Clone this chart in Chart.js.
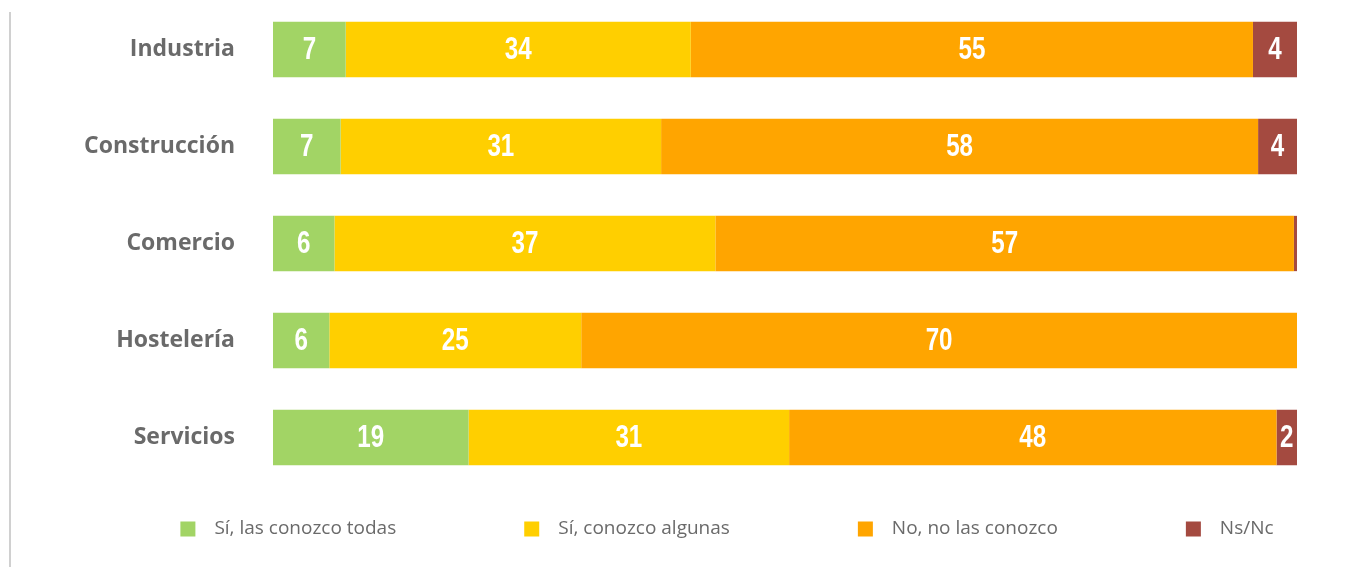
<!DOCTYPE html>
<html>
<head>
<meta charset="utf-8">
<script src="https://cdn.jsdelivr.net/npm/chart.js@4.4.1/dist/chart.umd.min.js"></script>
<style>
    html, body { margin: 0; padding: 0; background: #fff; }
    #wrap { position: relative; width: 1354px; height: 567px; }
    #edge { position: absolute; left: 9px; top: 12px; bottom: 0; width: 2px; background: #d0d0d0; }
</style>
</head>
<body>
<div id="wrap">
    <div id="edge"></div>
    <canvas id="barChart" width="1354" height="567"></canvas>
</div>
<script>
var sectores = ['Industria', 'Construcción', 'Comercio', 'Hostelería', 'Servicios'];
var series = ['Sí, las conozco todas', 'Sí, conozco algunas', 'No, no las conozco', 'Ns/Nc'];
var conozcoTodas = [7.1, 6.6, 6.0, 5.5, 19.1];
var conozcoAlgunas = [33.7, 31.3, 37.2, 24.6, 31.3];
var noConozco = [54.9, 58.3, 56.5, 69.9, 47.6];
var nsNc = [4.3, 3.8, 0.3, 0, 2.0];
var colores = ['#a2d465', '#ffcf00', '#ffa500', '#a44a40'];

document.addEventListener("DOMContentLoaded", function () {
    var ctx = document.getElementById('barChart').getContext('2d');
    var valores = [conozcoTodas, conozcoAlgunas, noConozco, nsNc];

    // numeros blancos dentro de cada tramo (letra estrecha)
    var etiquetas = {
        id: 'etiquetas',
        afterDatasetsDraw: function (chart) {
            var c = chart.ctx;
            c.save();
            c.fillStyle = '#fff';
            c.font = 'bold 31px "Liberation Sans", Arial, sans-serif';
            c.textAlign = 'center';
            c.textBaseline = 'middle';
            chart.data.datasets.forEach(function (ds, i) {
                chart.getDatasetMeta(i).data.forEach(function (bar, j) {
                    var v = ds.data[j];
                    if (v < 1) return;
                    c.save();
                    c.translate((bar.x + bar.base) / 2, bar.y + 1);
                    c.scale(0.78, 1);
                    c.fillText(Math.round(v), 0, 0);
                    c.restore();
                });
            });
            c.restore();
        }
    };

    // leyenda abajo con mucho espacio entre items
    var leyenda = {
        id: 'leyenda',
        afterDraw: function (chart) {
            var c = chart.ctx;
            var box = 15, gap = 19, sep = 128, y = 529;
            c.save();
            c.font = '19px "Open Sans", sans-serif';
            c.textAlign = 'left';
            c.textBaseline = 'middle';
            var anchos = chart.data.datasets.map(function (ds) {
                return box + gap + c.measureText(ds.label).width;
            });
            var total = anchos.reduce(function (a, b) { return a + b; }, 0) + sep * (anchos.length - 1);
            var x = 727 - total / 2;
            chart.data.datasets.forEach(function (ds, i) {
                c.fillStyle = ds.backgroundColor;
                c.fillRect(x, y - box / 2, box, box);
                c.fillStyle = '#6a6a6a';
                c.fillText(ds.label, x + box + gap, y);
                x += anchos[i] + sep;
            });
            c.restore();
        }
    };

    var data = {
        labels: sectores,
        datasets: series.map(function (s, i) {
            return {
                label: s,
                data: valores[i],
                backgroundColor: colores[i],
                borderWidth: 0,
                barPercentage: 0.57,
                categoryPercentage: 1
            };
        })
    };
    var options = {
        indexAxis: 'y',
        responsive: false,
        animation: false,
        layout: { padding: { top: 1, bottom: 81, left: 0, right: 57 } },
        scales: {
            x: { stacked: true, min: 0, max: 100, display: false },
            y: {
                stacked: true,
                grid: { display: false, drawTicks: false },
                border: { display: false },
                afterFit: function (axis) {
                    axis.width = 273;
                    axis.paddingTop = 0;
                    axis.paddingBottom = 0;
                },
                ticks: {
                    padding: 38,
                    color: '#6a6a6a',
                    font: { family: '"Open Sans", sans-serif', size: 23, weight: 'bold' }
                }
            }
        },
        plugins: {
            legend: { display: false },
            tooltip: { enabled: false }
        }
    };
    new Chart(ctx, {
        type: 'bar',
        data: data,
        options: options,
        plugins: [etiquetas, leyenda]
    });
});
</script>
</body>
</html>
